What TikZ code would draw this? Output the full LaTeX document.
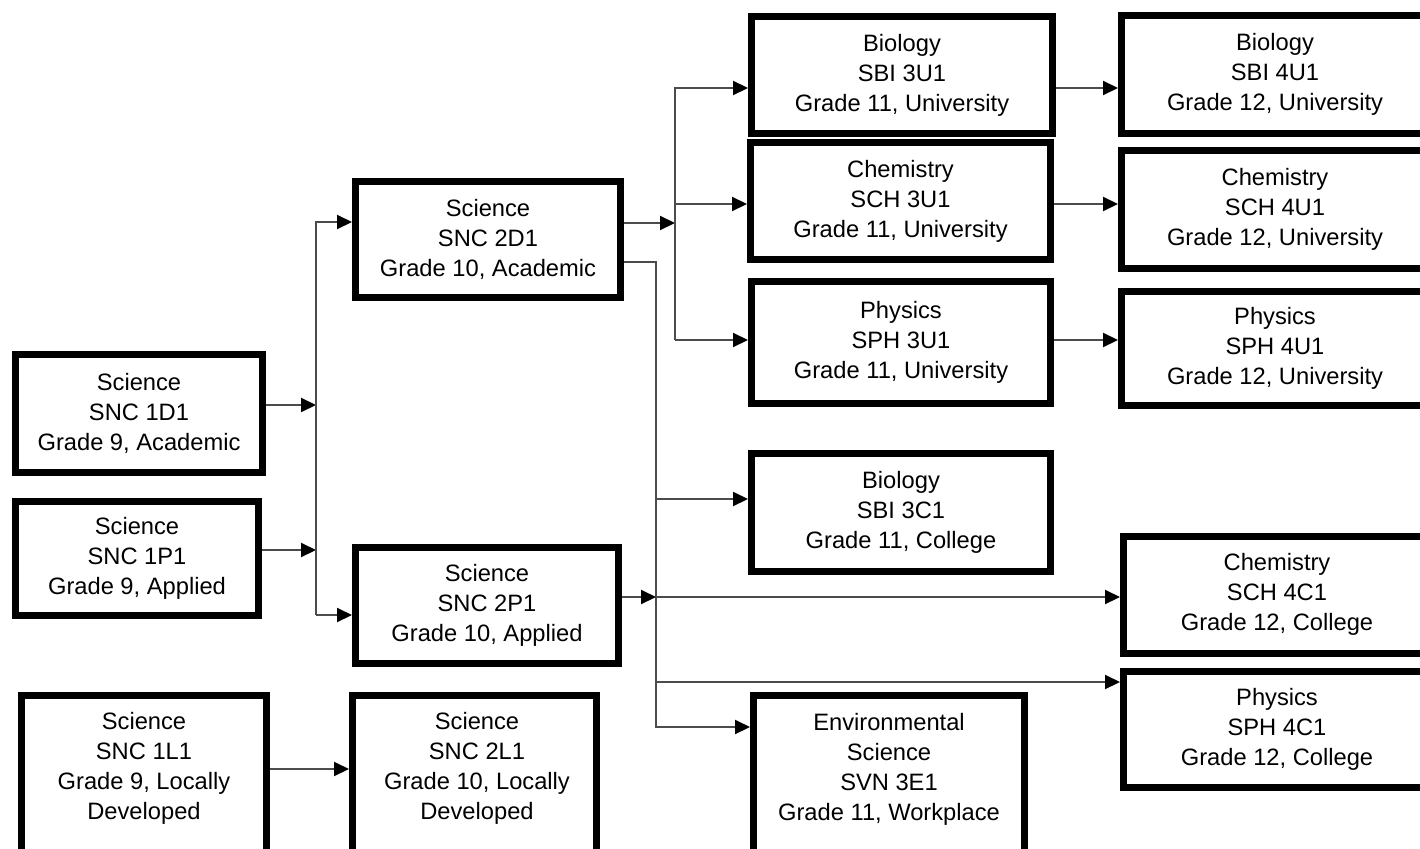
\documentclass[tikz,border=0pt]{standalone}
\usepackage{fontspec}
\setmainfont{Liberation Sans}
\usetikzlibrary{arrows.meta}
\begin{document}
\begin{tikzpicture}[x=1pt,y=-1pt,
  box/.style={draw=black, line width=7pt, rectangle, inner sep=0pt, align=center, fill=white, font=\fontsize{23.7}{30}\selectfont},
  txt/.style={inner sep=0pt, align=center, font=\fontsize{23.7}{30}\selectfont},
  wire/.style={draw=black!70, line width=2pt},
  conn/.style={wire, -{Triangle[length=15pt,width=14pt,color=black]}}]
\useasboundingbox (0,0) rectangle (1420,848);
\clip (0,0) rectangle (1420,848);
\fill[white] (0,0) rectangle (1420,848);

% Grade 9
\node[box, minimum width=247pt, minimum height=118pt] (d1) at (139,413) {Science\\SNC 1D1\\Grade 9, Academic};
\node[box, minimum width=243pt, minimum height=114pt] (p1) at (137,558) {Science\\SNC 1P1\\Grade 9, Applied};
\node[box, minimum width=245pt, minimum height=201pt] (l1) at (144,796) {};
\node[txt] (l1t) at (144,768) {Science\\SNC 1L1\\Grade 9, Locally\\Developed};

% Grade 10
\node[box, minimum width=265pt, minimum height=116pt] (d2) at (488,239.5) {Science\\SNC 2D1\\Grade 10, Academic};
\node[box, minimum width=263pt, minimum height=116pt] (p2) at (487,605.5) {Science\\SNC 2P1\\Grade 10, Applied};
\node[box, minimum width=244pt, minimum height=201pt] (l2) at (474.5,796) {};
\node[txt] (l2t) at (477,768) {Science\\SNC 2L1\\Grade 10, Locally\\Developed};

% Grade 11
\node[box, minimum width=301pt, minimum height=116pt] (bu) at (902,75) {Biology\\SBI 3U1\\Grade 11, University};
\node[box, minimum width=300pt, minimum height=117pt] (cu) at (900.5,201) {Chemistry\\SCH 3U1\\Grade 11, University};
\node[box, minimum width=299pt, minimum height=122pt] (pu) at (901,342.5) {Physics\\SPH 3U1\\Grade 11, University};
\node[box, minimum width=299pt, minimum height=118pt] (bc) at (901,512.5) {Biology\\SBI 3C1\\Grade 11, College};
\node[box, minimum width=271pt, minimum height=201pt] (ve) at (889,796) {};
\node[txt] (vet) at (889,769) {Environmental\\Science\\SVN 3E1\\Grade 11, Workplace};

% Grade 12
\node[box, minimum width=307pt, minimum height=118pt] (b4) at (1275,74.5) {Biology\\SBI 4U1\\Grade 12, University};
\node[box, minimum width=307pt, minimum height=118pt] (c4) at (1275,209.5) {Chemistry\\SCH 4U1\\Grade 12, University};
\node[box, minimum width=307pt, minimum height=114pt] (p4) at (1275,348.5) {Physics\\SPH 4U1\\Grade 12, University};
\node[box, minimum width=307pt, minimum height=117pt] (cc) at (1277,594.5) {Chemistry\\SCH 4C1\\Grade 12, College};
\node[box, minimum width=307pt, minimum height=116pt] (pc) at (1277,729.5) {Physics\\SPH 4C1\\Grade 12, College};

% bus A (grade 9 -> grade 10)
\coordinate (a1) at (316,405);
\coordinate (a2) at (316,550);
\coordinate (aT) at (316,222);
\coordinate (aB) at (316,615);
\draw[conn] (d1.east |- a1) -- (a1);
\draw[conn] (p1.east |- a2) -- (a2);
\draw[conn] (aB) -- (aT) -- (aT -| d2.west);
\draw[conn] (aB) -- (aB -| p2.west);

% bus B (academic -> university)
\coordinate (b1) at (675,223);
\coordinate (bT) at (675,88);
\coordinate (bM) at (675,204);
\coordinate (bB) at (675,340);
\draw[conn] (d2.east |- b1) -- (b1);
\draw[conn] (bB) -- (bT) -- (bT -| bu.west);
\draw[conn] (bM) -- (bM -| cu.west);
\draw[conn] (bB) -- (bB -| pu.west);

% bus C (college / workplace)
\coordinate (cT) at (656,262);
\coordinate (c1) at (656,499);
\coordinate (c2) at (656,597);
\coordinate (c3) at (656,682);
\coordinate (cB) at (656,727);
\draw[conn] (d2.east |- cT) -- (cT) -- (cB) -- (cB -| ve.west);
\draw[conn] (c1) -- (c1 -| bc.west);
\draw[conn] (p2.east |- c2) -- (c2);
\draw[conn] (c2) -- (c2 -| cc.west);
\draw[conn] (c3) -- (c3 -| pc.west);

% locally developed
\coordinate (lL) at (0,769);
\draw[conn] (l1.east |- lL) -- (l2.west |- lL);

% grade 11 -> grade 12 university
\draw[conn] (bu.east |- bT) -- (b4.west |- bT);
\draw[conn] (cu.east |- bM) -- (c4.west |- bM);
\draw[conn] (pu.east |- bB) -- (p4.west |- bB);
\end{tikzpicture}
\end{document}
